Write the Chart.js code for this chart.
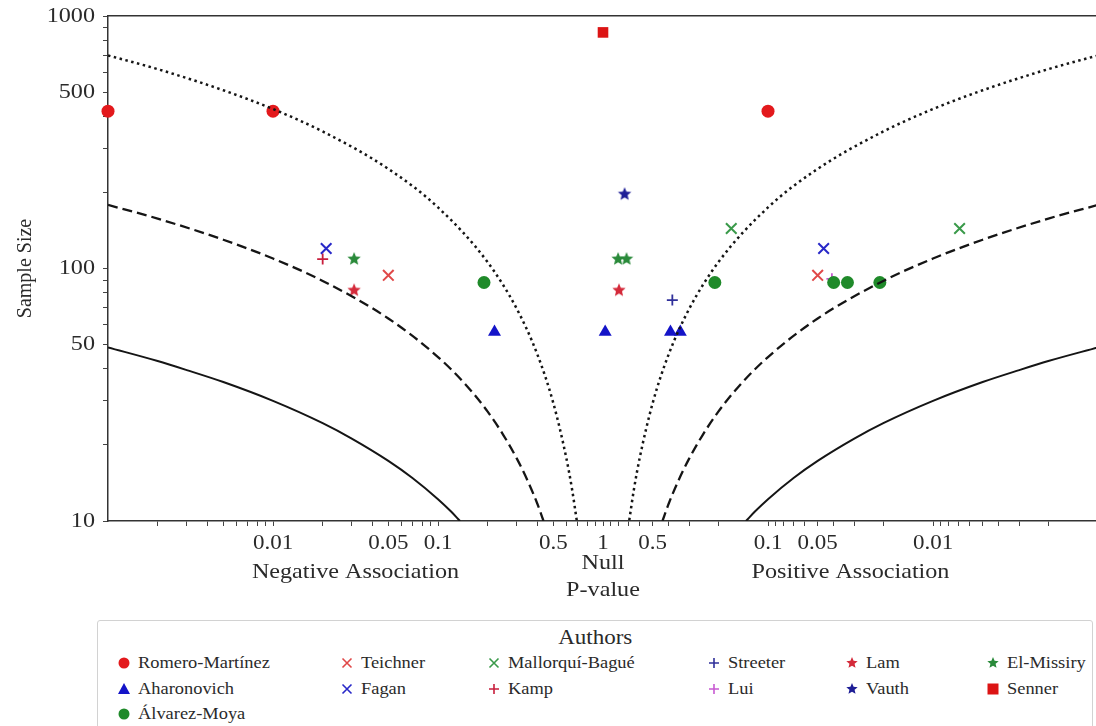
<!DOCTYPE html>
<html>
<head>
<meta charset="utf-8">
<script src="https://cdn.jsdelivr.net/npm/chart.js@4.4.1/dist/chart.umd.min.js"></script>
<style>
  html, body { margin: 0; padding: 0; background: #fff; overflow: hidden; width: 1096px; height: 726px; }
  #wrap { position: absolute; left: 0; top: 0; width: 1110px; height: 620px; }
  #legend { position: absolute; left: 97px; top: 620px; width: 996px; height: 120px; box-sizing: border-box;
    border: 1px solid #d2d2d2; border-radius: 3px; font-family: "Liberation Serif", serif; color: #2a2a2a; }
  #legend .title { position: absolute; left: 0; right: 0; top: 5px; text-align: center; font-size: 20px; }
  #legend .title span { display: inline-block; transform: scaleX(1.15); }
  .item { position: absolute; height: 20px; font-size: 16px; white-space: nowrap; }
  .item canvas { position: absolute; left: -8px; top: 2px; }
  .item span { position: absolute; left: 14px; top: 0; line-height: 20px; display: inline-block; transform: scaleX(1.15); transform-origin: left center; }
</style>
</head>
<body>
<div id="wrap"><canvas id="chart" width="1110" height="620"></canvas></div>
<div id="legend"><div class="title"><span>Authors</span></div></div>
<script>
// study points: author, p-value, direction (-1 negative / +1 positive), sample size
const pointAuthor = [
  'Romero-Martínez', 'Romero-Martínez', 'Romero-Martínez',
  'Aharonovich', 'Aharonovich', 'Aharonovich', 'Aharonovich',
  'Álvarez-Moya', 'Álvarez-Moya', 'Álvarez-Moya', 'Álvarez-Moya', 'Álvarez-Moya',
  'Teichner', 'Teichner',
  'Fagan', 'Fagan',
  'Mallorquí-Bagué', 'Mallorquí-Bagué',
  'Kamp',
  'Streeter',
  'Lui',
  'Lam', 'Lam',
  'Vauth',
  'El-Missiry', 'El-Missiry', 'El-Missiry',
  'Senner'
];
const pointP = [
  0.001, 0.01, 0.1,
  0.22, 0.97, 0.39, 0.34,
  0.19, 0.21, 0.040, 0.033, 0.021,
  0.05, 0.05,
  0.021, 0.046,
  0.167, 0.0069,
  0.020,
  0.38,
  0.041,
  0.031, 0.80,
  0.74,
  0.031, 0.81, 0.72,
  1.0
];
const pointDir = [
  -1, -1, 1,
  -1, 1, 1, 1,
  -1, 1, 1, 1, 1,
  -1, 1,
  -1, 1,
  1, 1,
  -1,
  1,
  1,
  -1, 1,
  1,
  -1, 1, 1,
  1
];
const pointN = [
  420, 420, 420,
  56, 56, 56, 56,
  88, 88, 88, 88, 88,
  94, 94,
  120, 120,
  144, 144,
  109,
  75,
  91,
  82, 82,
  197,
  109, 109, 109,
  861
];

// effect size contours (p-value, sample size), mirrored on both sides
const solidP = [0.001, 0.002, 0.003, 0.005, 0.01, 0.02, 0.03, 0.05, 0.07, 0.1, 0.12, 0.136];
const solidN = [48.7, 43.0, 39.6, 35.5, 29.9, 24.4, 21.2, 17.3, 14.8, 12.2, 10.9, 10];
const dashedP = [0.001, 0.002, 0.005, 0.01, 0.02, 0.05, 0.1, 0.15, 0.2, 0.25, 0.3, 0.35, 0.4, 0.436];
const dashedN = [178.6, 157.6, 130.0, 109.5, 89.3, 63.4, 44.6, 34.2, 27.1, 21.8, 17.7, 14.4, 11.7, 10];
const dottedP = [0.001, 0.002, 0.005, 0.01, 0.02, 0.05, 0.1, 0.2, 0.3, 0.4, 0.5, 0.6, 0.65, 0.694];
const dottedN = [698, 616, 508, 428, 349, 248, 174.5, 105.9, 69.3, 45.7, 29.3, 17.7, 13.3, 10];

// axis ticks
const xTickP = [0.002, 0.003, 0.004, 0.005, 0.006, 0.007, 0.008, 0.009,
  0.01, 0.02, 0.03, 0.04, 0.05, 0.06, 0.07, 0.08, 0.09,
  0.1, 0.2, 0.3, 0.4, 0.5, 0.6, 0.7, 0.8, 0.9, 1];
const xLabelP = [0.01, 0.05, 0.1, 0.5, 1];
const yTickValues = [10, 20, 30, 40, 50, 60, 70, 80, 90, 100, 200, 300, 400, 500, 600, 700, 800, 900, 1000];
const yLabelValues = [10, 50, 100, 500, 1000];

// legend / marker styles
const authorNames = ['Romero-Martínez', 'Aharonovich', 'Álvarez-Moya', 'Teichner', 'Fagan', 'Mallorquí-Bagué',
  'Kamp', 'Streeter', 'Lui', 'Lam', 'Vauth', 'El-Missiry', 'Senner'];
const authorColors = ['#e3191c', '#1414c8', '#1f8a2a', '#e04848', '#2828c8', '#3a9a4a',
  '#c81e3c', '#30309a', '#c85ad2', '#d42a3a', '#1e1e96', '#2a8a3a', '#dc1414'];
const authorShapes = ['circle', 'triangle', 'circle', 'crossRot', 'crossRot', 'crossRot',
  'cross', 'cross', 'cross', 'star', 'star', 'star', 'rect'];
const legendSlots = [[0, 0], [0, 1], [0, 2], [1, 0], [1, 1], [2, 0], [2, 1], [3, 0], [3, 1], [4, 0], [4, 1], [5, 0], [5, 1]];
const legendCols = [26, 249, 396, 616, 754, 895];
const legendRows = [42, 68, 93];

const FONT = '"Liberation Serif", "Times New Roman", serif';
const STRETCH = 1.15;
const TEXT = '#2a2a2a';

function toX(p, dir) {
  return dir * -Math.log10(p);
}

function starImage(color, r) {
  const c = document.createElement('canvas');
  const s = Math.ceil(r * 2 + 2);
  c.width = s;
  c.height = s;
  const g = c.getContext('2d');
  g.fillStyle = color;
  g.beginPath();
  for (let i = 0; i < 10; i++) {
    const rad = i % 2 ? r * 0.45 : r;
    const a = -Math.PI / 2 + (i * Math.PI) / 5;
    g.lineTo(s / 2 + rad * Math.cos(a), s / 2 + rad * Math.sin(a));
  }
  g.closePath();
  g.fill();
  return c;
}

function markerStyle(shape, color) {
  if (shape === 'star') return { pointStyle: starImage(color, 7), radius: 7, borderWidth: 0 };
  if (shape === 'circle') return { pointStyle: 'circle', radius: 6.5, borderWidth: 0 };
  if (shape === 'triangle') return { pointStyle: 'triangle', radius: 7.5, borderWidth: 0 };
  if (shape === 'rect') return { pointStyle: 'rect', radius: 7.5, borderWidth: 0 };
  if (shape === 'cross') return { pointStyle: 'cross', radius: 5.5, borderWidth: 1.8 };
  return { pointStyle: 'crossRot', radius: 7.5, borderWidth: 2 };
}

function contourSets(ps, ns, dash, width) {
  return [-1, 1].map((dir) => ({
    data: ps.map((p, i) => ({ x: toX(p, dir), y: ns[i] })),
    showLine: true,
    pointRadius: 0,
    borderColor: '#151515',
    borderWidth: width,
    borderDash: dash,
    cubicInterpolationMode: 'monotone',
    fill: false,
  }));
}

const datasets = [
  ...contourSets(solidP, solidN, [], 2),
  ...contourSets(dashedP, dashedN, [10, 5], 2.3),
  ...contourSets(dottedP, dottedN, [2.5, 3.5], 2.5),
];

authorNames.forEach((name, a) => {
  const st = markerStyle(authorShapes[a], authorColors[a]);
  const data = [];
  pointAuthor.forEach((au, i) => {
    if (au === name) data.push({ x: toX(pointP[i], pointDir[i]), y: pointN[i] });
  });
  datasets.push({
    label: name,
    data: data,
    pointStyle: st.pointStyle,
    pointRadius: st.radius,
    pointBorderWidth: st.borderWidth,
    backgroundColor: authorColors[a],
    borderColor: authorColors[a],
    showLine: false,
    clip: false,
  });
});

function stretchText(ctx, s, x, y, align) {
  ctx.save();
  ctx.translate(x, y);
  ctx.scale(STRETCH, 1);
  ctx.textAlign = align;
  ctx.fillText(s, 0, 0);
  ctx.restore();
}

// tick labels and axis captions
const textPlugin = {
  id: 'albatrossText',
  afterDraw(chart) {
    const ctx = chart.ctx;
    const xs = chart.scales.x;
    const ys = chart.scales.y;
    const area = chart.chartArea;
    ctx.save();
    ctx.fillStyle = TEXT;
    ctx.textBaseline = 'middle';
    ctx.font = '20px ' + FONT;
    xLabelP.forEach((p) => {
      [-1, 1].forEach((dir) => {
        if (p === 1 && dir < 0) return;
        stretchText(ctx, String(p), xs.getPixelForValue(toX(p, dir)), area.bottom + 23, 'center');
      });
    });
    ctx.font = '21px ' + FONT;
    yLabelValues.forEach((v) => {
      stretchText(ctx, String(v), area.left - 13, ys.getPixelForValue(v), 'right');
    });
    stretchText(ctx, 'Negative Association', xs.getPixelForValue(-1.5), area.bottom + 51, 'center');
    stretchText(ctx, 'Positive Association', xs.getPixelForValue(1.5), area.bottom + 51, 'center');
    stretchText(ctx, 'Null', xs.getPixelForValue(0), area.bottom + 42, 'center');
    stretchText(ctx, 'P-value', xs.getPixelForValue(0), area.bottom + 69, 'center');
    ctx.restore();
  },
};

const axisGrid = { drawOnChartArea: false, drawTicks: true, tickLength: 5, color: '#444', lineWidth: 1 };
const axisBorder = { color: '#333', width: 1.5 };

new Chart(document.getElementById('chart'), {
  type: 'scatter',
  data: { datasets: datasets },
  options: {
    responsive: false,
    animation: false,
    layout: { padding: { top: 16, right: 12, left: 0, bottom: 0 } },
    plugins: { legend: { display: false }, tooltip: { enabled: false } },
    scales: {
      x: {
        type: 'linear',
        position: 'bottom',
        min: -3,
        max: 3,
        afterFit: (s) => { s.height = 99; },
        afterBuildTicks: (s) => {
          const t = [];
          xTickP.forEach((p) => {
            t.push({ value: toX(p, -1) });
            if (p < 1) t.push({ value: toX(p, 1) });
          });
          s.ticks = t;
        },
        ticks: { display: false },
        grid: axisGrid,
        border: axisBorder,
      },
      x2: {
        type: 'linear',
        position: 'top',
        min: -3,
        max: 3,
        afterFit: (s) => { s.height = 0; },
        ticks: { display: false },
        grid: { drawOnChartArea: false, drawTicks: false },
        border: axisBorder,
      },
      y: {
        type: 'logarithmic',
        min: 10,
        max: 1000,
        afterFit: (s) => { s.width = 108; },
        afterBuildTicks: (s) => {
          s.ticks = yTickValues.map((v) => ({ value: v }));
        },
        ticks: { display: false },
        grid: axisGrid,
        border: axisBorder,
        title: {
          display: true,
          text: 'Sample Size',
          color: TEXT,
          font: { family: FONT, size: 20 },
          padding: { top: 14, bottom: 0 },
        },
      },
    },
  },
  plugins: [textPlugin],
});

// legend box below the plot
function drawGlyph(g, shape, color, x, y) {
  g.fillStyle = color;
  g.strokeStyle = color;
  g.lineWidth = 1.6;
  g.beginPath();
  if (shape === 'circle') {
    g.arc(x, y, 5.5, 0, Math.PI * 2);
    g.fill();
  } else if (shape === 'triangle') {
    g.moveTo(x, y - 6);
    g.lineTo(x + 6, y + 5);
    g.lineTo(x - 6, y + 5);
    g.closePath();
    g.fill();
  } else if (shape === 'rect') {
    g.rect(x - 5.5, y - 5.5, 11, 11);
    g.fill();
  } else if (shape === 'cross') {
    g.moveTo(x - 5, y); g.lineTo(x + 5, y);
    g.moveTo(x, y - 5); g.lineTo(x, y + 5);
    g.stroke();
  } else if (shape === 'crossRot') {
    g.moveTo(x - 4.5, y - 4.5); g.lineTo(x + 4.5, y + 4.5);
    g.moveTo(x + 4.5, y - 4.5); g.lineTo(x - 4.5, y + 4.5);
    g.stroke();
  } else {
    const img = starImage(color, 6);
    g.drawImage(img, x - img.width / 2, y - img.height / 2);
  }
}

const legendEl = document.getElementById('legend');
authorNames.forEach((name, a) => {
  const [col, row] = legendSlots[a];
  const item = document.createElement('div');
  item.className = 'item';
  item.style.left = legendCols[col] + 'px';
  item.style.top = legendRows[row] - 10 + 'px';
  const c = document.createElement('canvas');
  c.width = 16;
  c.height = 16;
  drawGlyph(c.getContext('2d'), authorShapes[a], authorColors[a], 8, 8);
  item.appendChild(c);
  const label = document.createElement('span');
  label.textContent = name;
  item.appendChild(label);
  legendEl.appendChild(item);
});
</script>
</body>
</html>
